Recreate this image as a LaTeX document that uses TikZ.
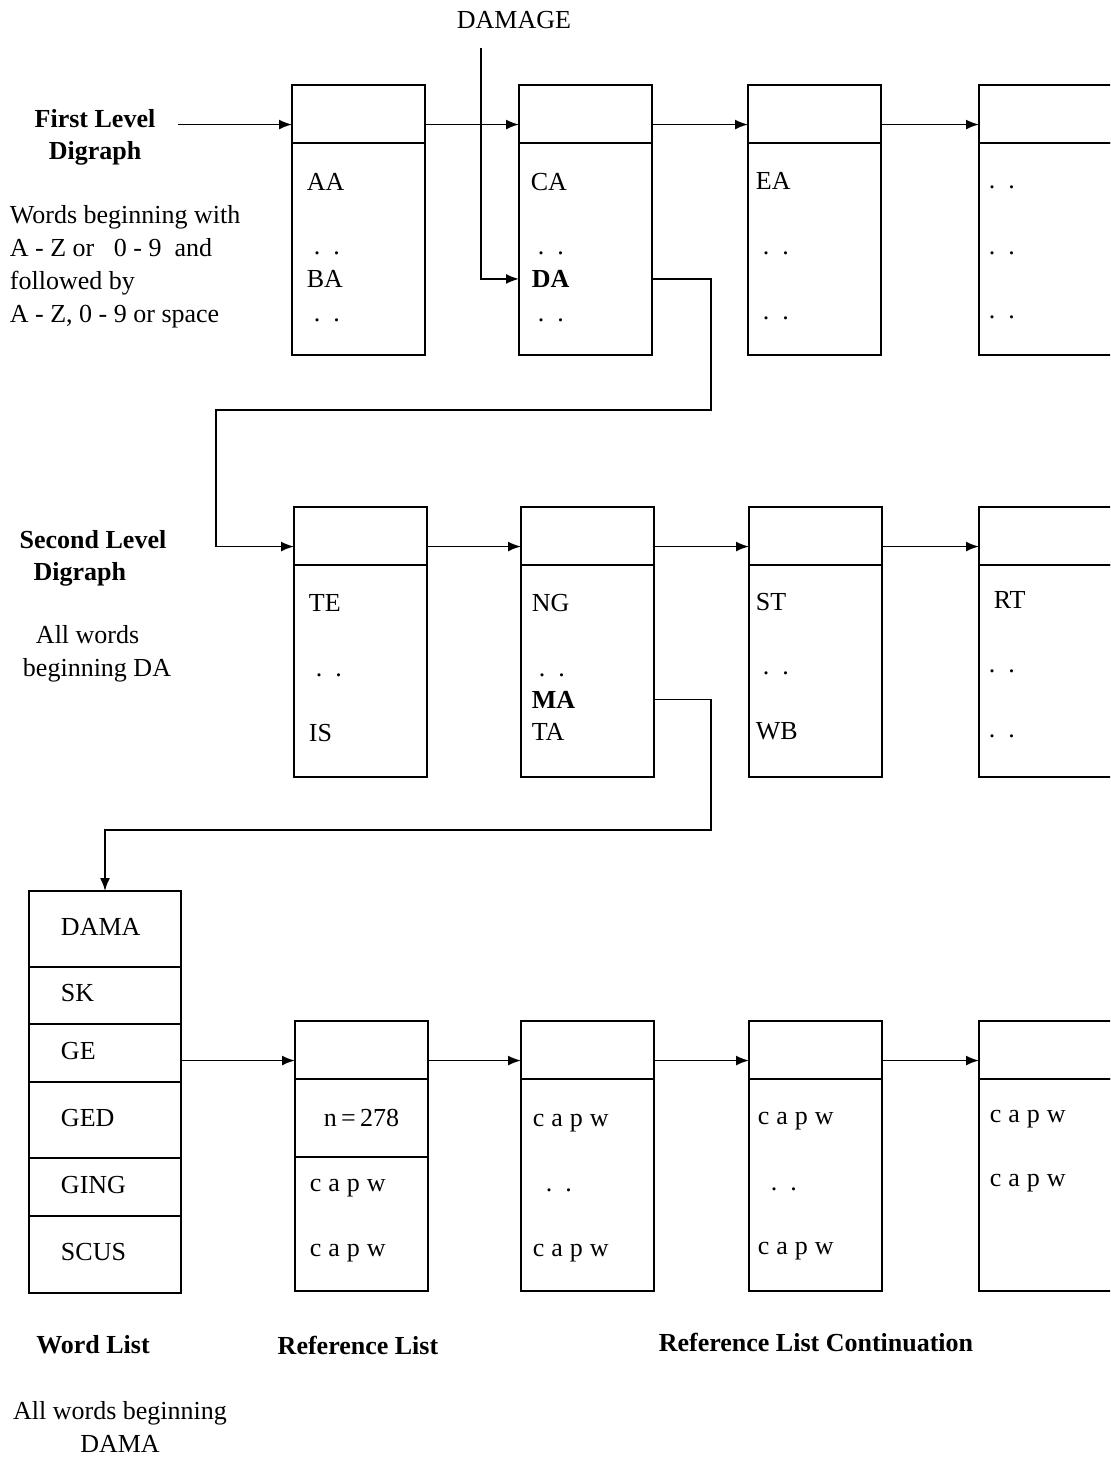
\documentclass[tikz,border=0pt]{standalone}
\usepackage{fontspec}
\setmainfont{Liberation Serif}
\usetikzlibrary{positioning,arrows.meta}
\newcommand{\dd}{.\hspace{6.5pt}.}
\newcommand{\capw}{c\hspace{3.5pt}a\hspace{3.5pt}p\hspace{3.5pt}w}
\tikzset{
  head/.style={draw, minimum width=66.5pt, minimum height=29pt, inner sep=0pt, outer sep=0pt},
  body/.style={draw, minimum width=66.5pt, minimum height=106pt, inner sep=0pt, outer sep=0pt},
  cell/.style={draw, text width=44pt, inner xsep=16pt, inner ysep=0pt, outer sep=0pt, align=left,
    text height=9pt, text depth=3pt},
  entry/.style={anchor=base west, inner sep=0pt},
  lbl/.style={font=\fontsize{13}{16}\selectfont\bfseries, align=center, inner sep=0pt},
}
\begin{document}
\begin{tikzpicture}[x=0.5pt, y=-0.5pt, >={Latex[length=6.5pt,width=5pt]}, line width=0.9pt,
  font=\fontsize{13}{16.5}\selectfont]
  \useasboundingbox (0,0) rectangle (1110,1457);
  \clip (0,0) rectangle (1110,1457);
  % First level digraph
  \node[lbl] (lvl1) at (95,137) {First Level\\Digraph};
  \node[anchor=north west, align=left, inner sep=0pt] (words1) at (9,205)
    {Words beginning with\\A - Z or \ \ 0 - 9 \ and\\followed by\\A - Z, 0 - 9 or space};
  \node (dmg) at (514,20) {DAMAGE};
  \coordinate (d0) at (481,48);
  \coordinate (in1) at (178,0);
  \node[head, anchor=north west] (f1) at (292,85) {};
  \node[body, below=0pt of f1] (f1b) {};
  \node[head, anchor=north west] (f2) at (519,85) {};
  \node[body, below=0pt of f2] (f2b) {};
  \node[head, anchor=north west] (f3) at (748,85) {};
  \node[body, below=0pt of f3] (f3b) {};
  \node[head, anchor=north west] (f4) at (979,85) {};
  \node[body, below=0pt of f4] (f4b) {};
  \node[entry] (aa) at (306,190.5) {AA};
  \node[entry] (f1d1) at (313,254) {\dd};
  \node[entry] (ba) at (306,287.5) {BA};
  \node[entry] (f1d2) at (313,321) {\dd};
  \node[entry] (ca) at (530,190.5) {CA};
  \node[entry] (f2d1) at (537,254) {\dd};
  \node[entry] (da) at (531,287.5) {\bfseries DA};
  \node[entry] (f2d2) at (537,321) {\dd};
  \node[entry] (ea) at (755,189.5) {EA};
  \node[entry] (f3d1) at (762,254) {\dd};
  \node[entry] (f3d2) at (762,319) {\dd};
  \node[entry] (f4d1) at (988,188) {\dd};
  \node[entry] (f4d2) at (988,254) {\dd};
  \node[entry] (f4d3) at (988,318) {\dd};
  \draw[->] (f1.189 -| in1) -- (f1.189);
  \draw[->] (f1.351) -- (f2.189);
  \draw[->] (f2.351) -- (f3.189);
  \draw[->] (f3.351) -- (f4.189);
  \draw[->] (d0) |- (f2b.west |- da);
  % Second level digraph
  \node[lbl, align=left] (lvl2) at (93,558) {Second Level\\\hspace{7pt}Digraph};
  \node[align=left, inner sep=0pt] (words2) at (97,654) {\hspace{6.5pt}All words\\beginning DA};
  \coordinate (k1) at (711,410);
  \coordinate (k2) at (216,410);
  \node[head, anchor=north west] (s1) at (294,507) {};
  \node[body, below=0pt of s1] (s1b) {};
  \node[head, anchor=north west] (s2) at (521,507) {};
  \node[body, below=0pt of s2] (s2b) {};
  \node[head, anchor=north west] (s3) at (749,507) {};
  \node[body, below=0pt of s3] (s3b) {};
  \node[head, anchor=north west] (s4) at (979,507) {};
  \node[body, below=0pt of s4] (s4b) {};
  \node[entry] (te) at (308,611) {TE};
  \node[entry] (s1d1) at (315,676) {\dd};
  \node[entry] (is) at (308,741) {IS};
  \node[entry] (ng) at (531,611) {NG};
  \node[entry] (s2d1) at (538,676) {\dd};
  \node[entry] (ma) at (531,708) {\bfseries MA};
  \node[entry] (ta) at (531,740) {TA};
  \node[entry] (st) at (755,610) {ST};
  \node[entry] (s3d1) at (762,674) {\dd};
  \node[entry] (wb) at (755,739) {WB};
  \node[entry] (rt) at (993,608) {RT};
  \node[entry] (s4d1) at (988,672) {\dd};
  \node[entry] (s4d2) at (988,737) {\dd};
  \draw[->] (f2b.east |- da) -| (k1) -- (k2) |- (s1.189);
  \draw[->] (s1.351) -- (s2.189);
  \draw[->] (s2.351) -- (s3.189);
  \draw[->] (s3.351) -- (s4.189);
  % Word list
  \coordinate (k3) at (711,830);
  \node[cell, minimum height=38pt, anchor=north west] (w1) at (29,891) {DAMA};
  \node[cell, minimum height=28.5pt, below=0pt of w1] (w2) {SK};
  \node[cell, minimum height=29pt, below=0pt of w2] (w3) {GE};
  \node[cell, minimum height=38pt, below=0pt of w3] (w4) {GED};
  \node[cell, minimum height=29pt, below=0pt of w4] (w5) {GING};
  \node[cell, minimum height=38.5pt, below=0pt of w5] (w6) {SCUS};
  \draw[->] (s2b.east |- ma) -| (k3) -| (w1.north);
  % Reference list
  \node[head, anchor=north west] (r1) at (295,1021) {};
  \node[body, minimum height=39pt, below=0pt of r1] (r1n) {n\,=\,278};
  \node[body, minimum height=67pt, below=0pt of r1n] (r1b) {};
  \node[head, anchor=north west] (r2) at (521,1021) {};
  \node[body, below=0pt of r2] (r2b) {};
  \node[head, anchor=north west] (r3) at (749,1021) {};
  \node[body, below=0pt of r3] (r3b) {};
  \node[head, anchor=north west] (r4) at (979,1021) {};
  \node[body, below=0pt of r4] (r4b) {};
  \node[entry] (r1c1) at (309,1191) {\capw};
  \node[entry] (r1c2) at (309,1256) {\capw};
  \node[entry] (r2c1) at (532,1126) {\capw};
  \node[entry] (r2d1) at (545,1191) {\dd};
  \node[entry] (r2c2) at (532,1256) {\capw};
  \node[entry] (r3c1) at (757,1124) {\capw};
  \node[entry] (r3d1) at (770,1190) {\dd};
  \node[entry] (r3c2) at (757,1254) {\capw};
  \node[entry] (r4c1) at (989,1122) {\capw};
  \node[entry] (r4c2) at (989,1186) {\capw};
  \draw[->] (w3.east |- r1.189) -- (r1.189);
  \draw[->] (r1.351) -- (r2.189);
  \draw[->] (r2.351) -- (r3.189);
  \draw[->] (r3.351) -- (r4.189);
  % Captions
  \node[lbl] (wl) at (93,1345) {Word List};
  \node[lbl] (rl) at (358,1345) {Reference List};
  \node[lbl] (rlc) at (816,1342) {Reference List Continuation};
  \node[align=center, inner sep=0pt] (words3) at (120,1427) {All words beginning\\DAMA};
\end{tikzpicture}
\end{document}
